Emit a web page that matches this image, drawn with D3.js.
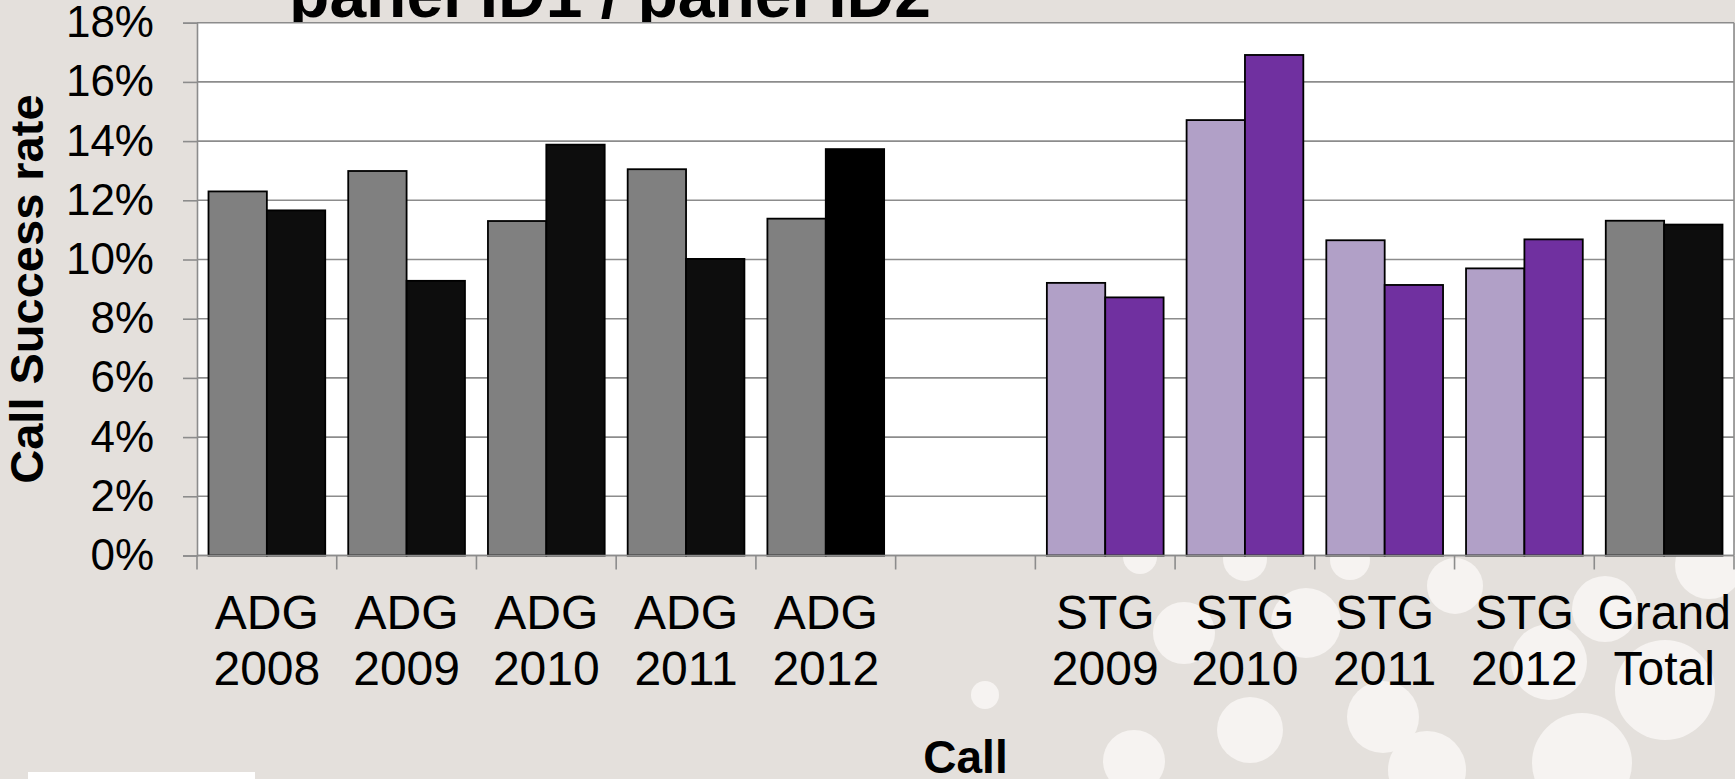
<!DOCTYPE html>
<html>
<head>
<meta charset="utf-8">
<script src="https://cdn.jsdelivr.net/npm/d3@7"></script>
<style>
  body { margin: 0; background: #e4e0dc; overflow: hidden; }
  svg { display: block; font-family: "Liberation Sans", Arial, sans-serif; }
</style>
</head>
<body>
<svg id="chart" width="1735" height="779"></svg>
<script>
// Chart data
const categories = ["ADG 2008", "ADG 2009", "ADG 2010", "ADG 2011", "ADG 2012", "",
                    "STG 2009", "STG 2010", "STG 2011", "STG 2012", "Grand Total"];
const panel1Rate = [12.30, 12.99, 11.30, 13.05, 11.38, null, 9.21, 14.71, 10.65, 9.70, 11.31];
const panel2Rate = [11.66, 9.28, 13.88, 10.02, 13.73, null, 8.72, 16.91, 9.14, 10.68, 11.18];
const yTicks = [0, 2, 4, 6, 8, 10, 12, 14, 16, 18];

const titleText = "panel ID1 / panel ID2";
const yTitle = "Call Success rate";
const xTitle = "Call";

// decorative background bubbles (x, y, r)
const bubbles = [
    [1140, 557, 17], [1184, 633, 31], [1245, 559, 22], [1306, 623, 35],
    [1250, 730, 33], [1383, 717, 36], [1134, 761, 31], [985, 695, 14],
    [1427, 770, 39], [1455, 586, 28], [1549, 662, 38], [1582, 763, 50],
    [1605, 609, 33], [1665, 690, 50], [1709, 565, 34], [1350, 560, 20]
];

const colors = {
    ADG: ["#808080", "#0d0d0d"],
    STG: ["#b1a0c7", "#7030a0"],
    Grand: ["#808080", "#0d0d0d"]
};

const svg = d3.select("#chart");
const W = 1735, H = 779;
const margin = { top: 22.7, right: 1, bottom: 223.5, left: 197 };
const plotW = W - margin.left - margin.right;
const plotH = H - margin.top - margin.bottom;

// Background bubbles
svg.append("g").selectAll("circle")
    .data(bubbles)
    .enter()
    .append("circle")
    .attr("cx", d => d[0])
    .attr("cy", d => d[1])
    .attr("r", d => d[2])
    .attr("fill", "#f6f3f1");

// logo placeholder, bottom left
svg.append("rect")
    .attr("x", 28).attr("y", 772)
    .attr("width", 227).attr("height", 10)
    .attr("fill", "#ffffff");

// Title (mostly hidden behind the plot area, like the original)
svg.append("text")
    .attr("x", 610)
    .attr("y", 16.5)
    .attr("text-anchor", "middle")
    .style("font-size", "66px")
    .style("font-weight", "bold")
    .text(titleText);

const g = svg.append("g")
    .attr("transform", `translate(${margin.left},${margin.top})`);

// Scales
const x = d3.scaleBand().domain(categories).range([0, plotW]).padding(0);
const xSub = d3.scaleBand().domain([0, 1]).range([0, x.bandwidth()])
    .paddingInner(0).paddingOuter(0.197);
const y = d3.scaleLinear().domain([0, 18]).range([plotH, 0]);

// Plot area
g.append("rect")
    .attr("width", plotW)
    .attr("height", plotH)
    .attr("fill", "#ffffff");

// Gridlines
g.append("g").selectAll("line")
    .data(yTicks)
    .enter()
    .append("line")
    .attr("x1", 0).attr("x2", plotW)
    .attr("y1", d => y(d)).attr("y2", d => y(d))
    .attr("stroke", "#8c8c8c")
    .attr("stroke-width", 1.6);

// right border
g.append("line")
    .attr("x1", plotW).attr("x2", plotW)
    .attr("y1", 0).attr("y2", plotH)
    .attr("stroke", "#8c8c8c")
    .attr("stroke-width", 1.6);

// Bars
const rows = categories.map((c, i) => ({
    cat: c,
    group: c.split(" ")[0],
    values: [panel1Rate[i], panel2Rate[i]]
})).filter(r => r.values[0] !== null);

const groups = g.append("g").selectAll("g")
    .data(rows)
    .enter()
    .append("g")
    .attr("transform", d => `translate(${x(d.cat)},0)`);

groups.selectAll("rect")
    .data(d => d.values.map((v, k) => ({ v, k, d })))
    .enter()
    .append("rect")
    .attr("x", b => xSub(b.k))
    .attr("width", xSub.bandwidth())
    .attr("y", b => y(b.v))
    .attr("height", b => y(0) - y(b.v))
    .attr("fill", b => (b.d.cat === "ADG 2012" && b.k === 1) ? "#000000" : colors[b.d.group][b.k])
    .attr("stroke", "#000")
    .attr("stroke-width", 1.8);

// Y axis
const yAxis = g.append("g")
    .call(d3.axisLeft(y).tickValues(yTicks).tickSize(14).tickPadding(29)
        .tickFormat(d => d + "%"));
yAxis.select(".domain").attr("stroke", "#8c8c8c").attr("stroke-width", 1.6);
yAxis.selectAll(".tick line").attr("stroke", "#8c8c8c").attr("stroke-width", 1.6);
yAxis.selectAll(".tick text")
    .attr("fill", "#000")
    .style("font-size", "44px")
    .attr("font-family", null);

// X axis: baseline + ticks between categories
g.append("line")
    .attr("x1", 0).attr("x2", plotW)
    .attr("y1", plotH).attr("y2", plotH)
    .attr("stroke", "#8c8c8c")
    .attr("stroke-width", 1.6);

const bounds = categories.map(c => x(c)).concat([x.range()[1]]);
g.append("g").selectAll("line")
    .data(bounds)
    .enter()
    .append("line")
    .attr("x1", d => d).attr("x2", d => d)
    .attr("y1", plotH).attr("y2", plotH + 14)
    .attr("stroke", "#8c8c8c")
    .attr("stroke-width", 1.6);

const xLabels = g.append("g").selectAll("text")
    .data(categories.filter(c => c !== ""))
    .enter()
    .append("text")
    .attr("x", c => x(c) + x.bandwidth() / 2)
    .attr("y", plotH + 74)
    .attr("text-anchor", "middle")
    .style("font-size", "48px");

xLabels.selectAll("tspan")
    .data(c => c.split(" "))
    .enter()
    .append("tspan")
    .attr("x", function () { return d3.select(this.parentNode).attr("x"); })
    .attr("dy", (d, i) => i === 0 ? 0 : 56)
    .text(d => d);

// Axis titles
svg.append("text")
    .attr("transform", `translate(43, ${margin.top + plotH / 2}) rotate(-90)`)
    .attr("text-anchor", "middle")
    .style("font-size", "47px")
    .style("font-weight", "bold")
    .text(yTitle);

svg.append("text")
    .attr("x", margin.left + plotW / 2)
    .attr("y", 773)
    .attr("text-anchor", "middle")
    .style("font-size", "46px")
    .style("font-weight", "bold")
    .text(xTitle);
</script>
</body>
</html>
